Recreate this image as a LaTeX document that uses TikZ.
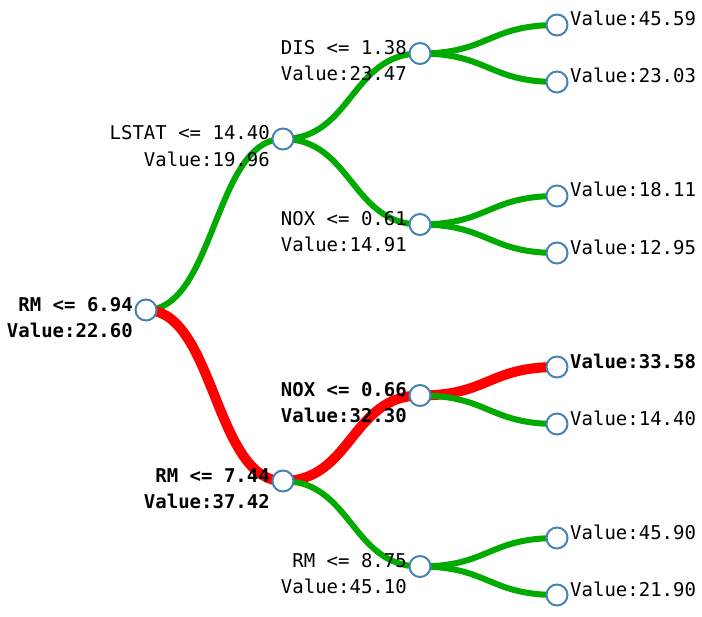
\documentclass[tikz,border=0pt]{standalone}
\usepackage{fontspec}
\setmonofont{DejaVu Sans Mono}
\definecolor{lgreen}{RGB}{0,170,0}
\definecolor{lred}{RGB}{255,0,0}
\definecolor{nodeblue}{RGB}{70,130,180}
\pgfdeclarelayer{bg}
\pgfsetlayers{bg,main}
\tikzset{
  tnode/.style={circle,draw=nodeblue,fill=white,line width=2bp,minimum size=21bp,inner sep=0pt},
  lbl/.style={inner sep=0pt,font=\fontsize{19bp}{22bp}\selectfont\ttfamily},
  lblb/.style={lbl,font=\fontsize{19bp}{22bp}\selectfont\ttfamily\bfseries},
  glink/.style={draw=lgreen,line width=6bp},
  rlink/.style={draw=lred,line width=10bp},
}
\newcommand{\lk}[3]{\draw[#1] (#2.center) .. controls ([xshift=68.5bp]#2.center) and ([xshift=-68.5bp]#3.center) .. (#3.center);}
\begin{document}
\begin{tikzpicture}[x=1bp,y=-1bp]
\useasboundingbox (0,0) rectangle (702,617);
% tree nodes
\node[tnode] (n0) at (146,310) {};
\node[tnode] (n1) at (283,139) {};
\node[tnode] (n2) at (283,481) {};
\node[tnode] (n3) at (420,53.5) {};
\node[tnode] (n4) at (420,224.5) {};
\node[tnode] (n5) at (420,395.5) {};
\node[tnode] (n6) at (420,566.5) {};
\node[tnode] (l1) at (557,25) {};
\node[tnode] (l2) at (557,82) {};
\node[tnode] (l3) at (557,196) {};
\node[tnode] (l4) at (557,253) {};
\node[tnode] (l5) at (557,367) {};
\node[tnode] (l6) at (557,424) {};
\node[tnode] (l7) at (557,538) {};
\node[tnode] (l8) at (557,595) {};
% links
\begin{pgfonlayer}{bg}
\lk{glink}{n0}{n1}
\lk{rlink}{n0}{n2}
\lk{glink}{n1}{n3}
\lk{glink}{n1}{n4}
\lk{rlink}{n2}{n5}
\lk{glink}{n2}{n6}
\lk{glink}{n3}{l1}
\lk{glink}{n3}{l2}
\lk{glink}{n4}{l3}
\lk{glink}{n4}{l4}
\lk{rlink}{n5}{l5}
\lk{glink}{n5}{l6}
\lk{glink}{n6}{l7}
\lk{glink}{n6}{l8}
\end{pgfonlayer}
% labels of internal nodes
\node[lblb,anchor=base east] (t0a) at ([xshift=-13bp,yshift=-1bp]n0.center) {RM <= 6.94};
\node[lblb,anchor=base east] (t0b) at ([xshift=-13bp,yshift=-27bp]n0.center) {Value:22.60};
\node[lbl,anchor=base east] (t1a) at ([xshift=-13bp,yshift=-1bp]n1.center) {LSTAT <= 14.40};
\node[lbl,anchor=base east] (t1b) at ([xshift=-13bp,yshift=-27bp]n1.center) {Value:19.96};
\node[lblb,anchor=base east] (t2a) at ([xshift=-13bp,yshift=-1bp]n2.center) {RM <= 7.44};
\node[lblb,anchor=base east] (t2b) at ([xshift=-13bp,yshift=-27bp]n2.center) {Value:37.42};
\node[lbl,anchor=base east] (t3a) at ([xshift=-13bp,yshift=-1bp]n3.center) {DIS <= 1.38};
\node[lbl,anchor=base east] (t3b) at ([xshift=-13bp,yshift=-27bp]n3.center) {Value:23.47};
\node[lbl,anchor=base east] (t4a) at ([xshift=-13bp,yshift=-1bp]n4.center) {NOX <= 0.61};
\node[lbl,anchor=base east] (t4b) at ([xshift=-13bp,yshift=-27bp]n4.center) {Value:14.91};
\node[lblb,anchor=base east] (t5a) at ([xshift=-13bp,yshift=-1bp]n5.center) {NOX <= 0.66};
\node[lblb,anchor=base east] (t5b) at ([xshift=-13bp,yshift=-27bp]n5.center) {Value:32.30};
\node[lbl,anchor=base east] (t6a) at ([xshift=-13bp,yshift=-1bp]n6.center) {RM <= 8.75};
\node[lbl,anchor=base east] (t6b) at ([xshift=-13bp,yshift=-27bp]n6.center) {Value:45.10};
% leaf labels
\node[lbl,anchor=base west] (s1) at ([xshift=13bp,yshift=-1bp]l1.center) {Value:45.59};
\node[lbl,anchor=base west] (s2) at ([xshift=13bp,yshift=-1bp]l2.center) {Value:23.03};
\node[lbl,anchor=base west] (s3) at ([xshift=13bp,yshift=-1bp]l3.center) {Value:18.11};
\node[lbl,anchor=base west] (s4) at ([xshift=13bp,yshift=-1bp]l4.center) {Value:12.95};
\node[lblb,anchor=base west] (s5) at ([xshift=13bp,yshift=-1bp]l5.center) {Value:33.58};
\node[lbl,anchor=base west] (s6) at ([xshift=13bp,yshift=-1bp]l6.center) {Value:14.40};
\node[lbl,anchor=base west] (s7) at ([xshift=13bp,yshift=-1bp]l7.center) {Value:45.90};
\node[lbl,anchor=base west] (s8) at ([xshift=13bp,yshift=-1bp]l8.center) {Value:21.90};
\end{tikzpicture}
\end{document}
